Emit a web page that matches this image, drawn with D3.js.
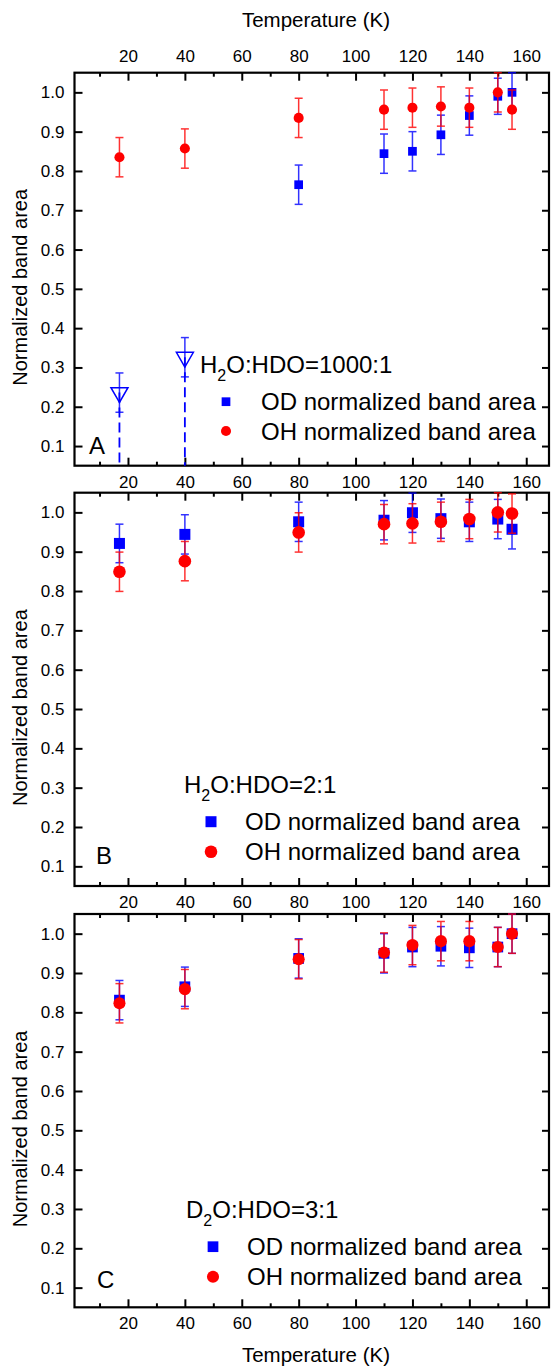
<!DOCTYPE html>
<html>
<head>
<meta charset="utf-8">
<script src="https://cdn.jsdelivr.net/npm/d3@7"></script>
<style>
  body { margin: 0; background: #fff; }
  svg { display: block; font-family: "Liberation Sans", Arial, sans-serif; }
</style>
</head>
<body>
<svg id="chart" width="552" height="1367"></svg>
<script>
// temperatures (K) of the measurements
const temps = [17, 40, 80, 110, 120, 130, 140, 150, 155];

// panel A: H2O:HDO = 1000:1
const odTempsA = [80, 110, 120, 130, 140, 150, 155];
const odA = [0.765, 0.844, 0.85, 0.892, 0.941, 0.99, 1.0];
const odErrA = [0.05, 0.05, 0.05, 0.05, 0.05, 0.046, 0.05];
const odLowTempsA = [17, 40];          // open triangles (upper limits)
const odLowA = [0.236, 0.326];
const odLowErrA = [0.05, 0.05];
const ohA = [0.835, 0.857, 0.935, 0.956, 0.961, 0.964, 0.961, 1.0, 0.956];
const ohErrA = [0.05, 0.05, 0.05, 0.05, 0.05, 0.05, 0.05, 0.05, 0.05];

// panel B: H2O:HDO = 2:1
const odB = [0.921, 0.944, 0.976, 0.98, 0.999, 0.984, 0.976, 0.983, 0.957];
const odErrB = [0.049, 0.05, 0.05, 0.05, 0.05, 0.05, 0.05, 0.05, 0.05];
const ohB = [0.849, 0.876, 0.949, 0.97, 0.972, 0.976, 0.983, 1.0, 0.997];
const ohErrB = [0.05, 0.05, 0.05, 0.05, 0.05, 0.05, 0.05, 0.05, 0.05];

// panel C: D2O:HDO = 3:1
const odC = [0.831, 0.865, 0.937, 0.95, 0.966, 0.968, 0.964, 0.966, 1.0];
const odErrC = [0.05, 0.05, 0.05, 0.05, 0.05, 0.05, 0.05, 0.05, 0.05];
const ohC = [0.823, 0.859, 0.935, 0.952, 0.971, 0.981, 0.981, 0.966, 1.0];
const ohErrC = [0.05, 0.05, 0.05, 0.05, 0.05, 0.05, 0.05, 0.05, 0.05];

// ticks and labels
const xTicks = [20, 40, 60, 80, 100, 120, 140, 160];
const xMinorTicks = [10, 30, 50, 70, 90, 110, 130, 150];
const yTicks = [0.1, 0.2, 0.3, 0.4, 0.5, 0.6, 0.7, 0.8, 0.9, 1.0];
const panelLetters = ["A", "B", "C"];
const ratioFirst = ["H", "H", "D"];
const ratioRest = ["O:HDO=1000:1", "O:HDO=2:1", "O:HDO=3:1"];
const legendLabels = ["OD normalized band area", "OH normalized band area"];
const xTitle = "Temperature (K)";
const yTitle = "Normalized band area";

const blue = "#0000ff";
const red = "#ff0000";

// layout of the three stacked panels
const panels = [
  { top: 72.7, bottom: 465.7, topLabels: true, sq: 76, circ: 80,
    od: odA, odErr: odErrA, odTemps: odTempsA, oh: ohA, ohErr: ohErrA,
    letter: [89, 454], ratio: [200, 372.7], legSym: 226, legText: 261, legY: [401.7, 431] },
  { top: 492.7, bottom: 886, topLabels: false, sq: 121, circ: 125,
    od: odB, odErr: odErrB, odTemps: temps, oh: ohB, ohErr: ohErrB,
    letter: [96, 864], ratio: [184, 793.3], legSym: 211, legText: 245, legY: [821.7, 851.7] },
  { top: 914, bottom: 1307.3, topLabels: false, sq: 115, circ: 115,
    od: odC, odErr: odErrC, odTemps: temps, oh: ohC, ohErr: ohErrC,
    letter: [97, 1288], ratio: [186, 1218.3], legSym: 213, legText: 247, legY: [1246.7, 1276.7] }
];

const svg = d3.select("#chart");
const x = d3.scaleLinear().domain([1.2, 168]).range([74.5, 549]);

function styleAxis(sel) {
  sel.select(".domain").remove();
  sel.selectAll(".tick line").attr("stroke", "#000").attr("stroke-width", 2);
  sel.selectAll(".tick text").attr("fill", "#000").style("font-size", "17px");
  sel.attr("font-family", null).attr("font-size", null);
}

function drawErrorBars(g, xs, ys, errs, y, color) {
  const cap = 4;
  const bars = g.append("g").attr("stroke", color).attr("stroke-width", 1.5).attr("opacity", 0.8);
  xs.forEach((t, i) => {
    const cx = x(t), lo = y(ys[i] - errs[i]), hi = y(ys[i] + errs[i]);
    bars.append("line").attr("x1", cx).attr("x2", cx).attr("y1", lo).attr("y2", hi);
    bars.append("line").attr("x1", cx - cap).attr("x2", cx + cap).attr("y1", lo).attr("y2", lo);
    bars.append("line").attr("x1", cx - cap).attr("x2", cx + cap).attr("y1", hi).attr("y2", hi);
  });
}

panels.forEach((p, i) => {
  const y = d3.scaleLinear().domain([0.05, 1.05]).range([p.bottom, p.top]);
  const g = svg.append("g");

  // x axes (bottom and top), major and minor ticks pointing inward
  const bottomAxis = d3.axisBottom(x).tickValues(xTicks).tickSizeInner(-8).tickSizeOuter(0).tickPadding(10);
  g.append("g").attr("transform", `translate(0,${p.bottom})`).call(bottomAxis).call(styleAxis);
  g.append("g").attr("transform", `translate(0,${p.bottom})`)
    .call(d3.axisBottom(x).tickValues(xMinorTicks).tickSizeInner(-4).tickSizeOuter(0).tickFormat(""))
    .call(styleAxis);

  const topAxis = d3.axisTop(x).tickValues(xTicks).tickSizeInner(-8).tickSizeOuter(0).tickPadding(11);
  if (!p.topLabels) topAxis.tickFormat("");
  g.append("g").attr("transform", `translate(0,${p.top})`).call(topAxis).call(styleAxis);
  g.append("g").attr("transform", `translate(0,${p.top})`)
    .call(d3.axisTop(x).tickValues(xMinorTicks).tickSizeInner(-4).tickSizeOuter(0).tickFormat(""))
    .call(styleAxis);

  // y axes (left with labels, right without)
  g.append("g").attr("transform", `translate(${x.range()[0]},0)`)
    .call(d3.axisLeft(y).tickValues(yTicks).tickFormat(d3.format(".1f")).tickSizeInner(-8).tickSizeOuter(0).tickPadding(10))
    .call(styleAxis);
  g.append("g").attr("transform", `translate(${x.range()[1]},0)`)
    .call(d3.axisRight(y).tickValues(yTicks).tickFormat("").tickSizeInner(-7).tickSizeOuter(0))
    .call(styleAxis);

  // frame
  g.append("rect")
    .attr("x", x.range()[0]).attr("y", p.top)
    .attr("width", x.range()[1] - x.range()[0]).attr("height", p.bottom - p.top)
    .attr("fill", "none").attr("stroke", "#000").attr("stroke-width", 2.2);

  // y title
  g.append("text")
    .attr("transform", `translate(27,${p.bottom - 80}) rotate(-90)`)
    .attr("text-anchor", "start").style("font-size", "20px").attr("fill", "#000")
    .text(yTitle);

  // OD series
  drawErrorBars(g, p.odTemps, p.od, p.odErr, y, blue);
  g.append("g").selectAll("path").data(p.odTemps).join("path")
    .attr("d", d3.symbol(d3.symbolSquare, p.sq))
    .attr("transform", (t, k) => `translate(${x(t)},${y(p.od[k])})`)
    .attr("fill", blue);

  // panel A: open down triangles with dashed drop lines
  if (i === 0) {
    g.append("g").selectAll("line").data(odLowTempsA).join("line")
      .attr("x1", t => x(t)).attr("x2", t => x(t))
      .attr("y1", (t, k) => y(odLowA[k])).attr("y2", p.bottom)
      .attr("stroke", blue).attr("stroke-width", 1.8).attr("stroke-dasharray", "10,5");
    drawErrorBars(g, odLowTempsA, odLowA, odLowErrA, y, blue);
    g.append("g").selectAll("path").data(odLowTempsA).join("path")
      .attr("d", d3.symbol(d3.symbolTriangle, 125))
      .attr("transform", (t, k) => `translate(${x(t)},${y(odLowA[k])}) rotate(180)`)
      .attr("fill", "none").attr("stroke", blue).attr("stroke-width", 1.5);
  }

  // OH series
  drawErrorBars(g, temps, p.oh, p.ohErr, y, red);
  g.append("g").selectAll("path").data(temps).join("path")
    .attr("d", d3.symbol(d3.symbolCircle, p.circ))
    .attr("transform", (t, k) => `translate(${x(t)},${y(p.oh[k])})`)
    .attr("fill", red);

  // panel letter
  g.append("text").attr("x", p.letter[0]).attr("y", p.letter[1])
    .style("font-size", "24px").attr("fill", "#000").text(panelLetters[i]);

  // ratio label with subscript
  const ratio = g.append("text").attr("x", p.ratio[0]).attr("y", p.ratio[1])
    .style("font-size", "24px").attr("fill", "#000");
  ratio.append("tspan").text(ratioFirst[i]);
  ratio.append("tspan").attr("dy", 8).style("font-size", "16px").text("2");
  ratio.append("tspan").attr("dy", -8).text(ratioRest[i]);

  // legend
  const leg = g.append("g");
  leg.append("path").attr("d", d3.symbol(d3.symbolSquare, p.sq))
    .attr("transform", `translate(${p.legSym},${p.legY[0]})`).attr("fill", blue);
  leg.append("path").attr("d", d3.symbol(d3.symbolCircle, p.circ))
    .attr("transform", `translate(${p.legSym},${p.legY[1]})`).attr("fill", red);
  leg.selectAll("text").data(legendLabels).join("text")
    .attr("x", p.legText).attr("y", (d, k) => p.legY[k] + 8.5)
    .style("font-size", "24px").attr("fill", "#000").text(d => d);
});

// shared x titles
svg.append("text").attr("x", 316).attr("y", 27.3).attr("text-anchor", "middle")
  .style("font-size", "20.5px").attr("fill", "#000").text(xTitle);
svg.append("text").attr("x", 316).attr("y", 1362).attr("text-anchor", "middle")
  .style("font-size", "20.5px").attr("fill", "#000").text(xTitle);
</script>
</body>
</html>
